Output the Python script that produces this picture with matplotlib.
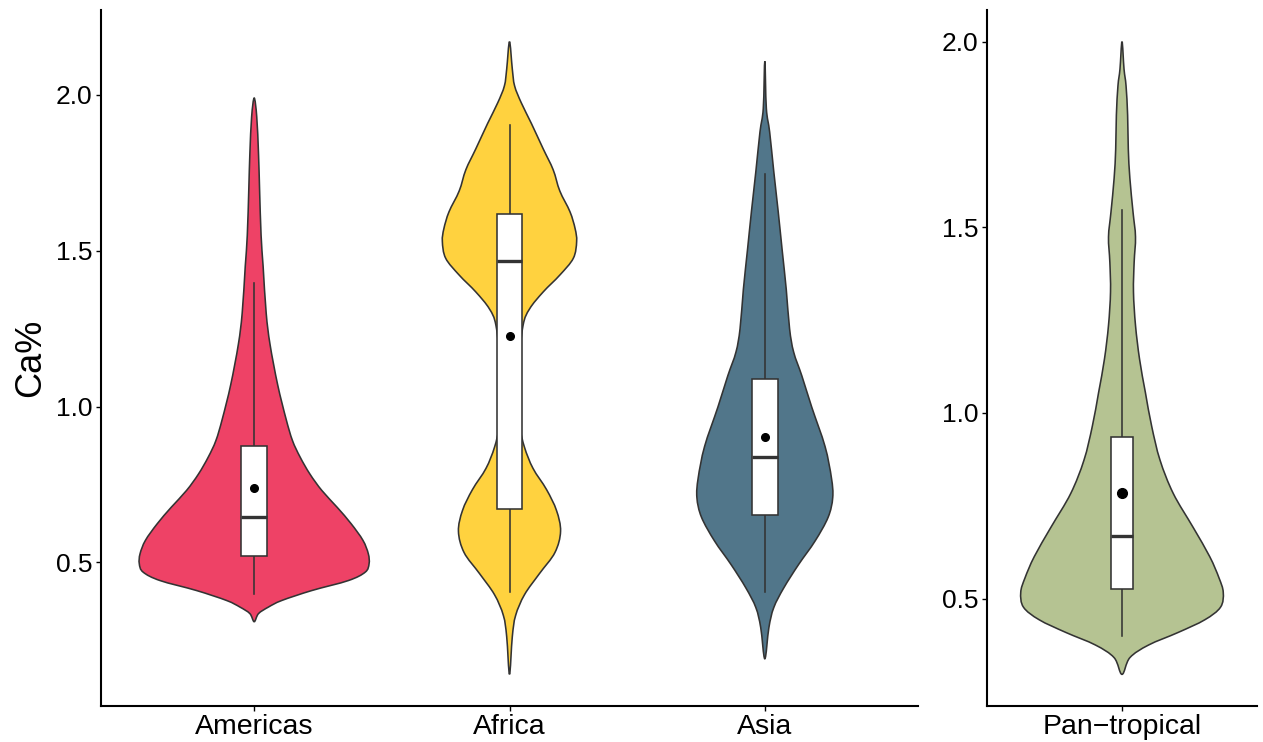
import numpy as np
import matplotlib
matplotlib.use('Agg')
import matplotlib.pyplot as plt
from matplotlib.path import Path
from matplotlib.patches import PathPatch, Rectangle

plt.rcParams['font.family'] = ['Liberation Sans', 'DejaVu Sans']

# Regional groups (left panel) and the pooled group (right panel)
REGIONS = ["Americas", "Africa", "Asia"]
POOLED = "Pan\u2212tropical"

COLORS = {
    "Americas": "#EE4266",
    "Africa": "#FFD23F",
    "Asia": "#51768A",
    POOLED: "#B5C392",
}

# Violin outlines: Ca% value and half-width (category units), top to bottom
AMERICAS_Y = [1.99, 1.93, 1.81, 1.70, 1.55, 1.45, 1.30, 1.20, 1.07, 0.96, 0.891,
              0.838, 0.784, 0.731, 0.677, 0.624, 0.571, 0.528, 0.496, 0.469, 0.442,
              0.410, 0.378, 0.357, 0.336, 0.31]
AMERICAS_HW = [0.0, 0.010, 0.017, 0.021, 0.027, 0.035, 0.047, 0.062, 0.092, 0.125, 0.150,
               0.180, 0.218, 0.265, 0.325, 0.380, 0.426, 0.447, 0.450, 0.435, 0.369,
               0.226, 0.108, 0.056, 0.017, 0.0]

AFRICA_Y = [2.171, 2.083, 2.029, 1.975, 1.908, 1.827, 1.760, 1.692, 1.625, 1.571, 1.530,
            1.476, 1.422, 1.368, 1.314, 1.260, 1.126, 1.031, 0.937, 0.869, 0.802, 0.734,
            0.667, 0.600, 0.532, 0.465, 0.397, 0.330, 0.262, 0.141]
AFRICA_HW = [0.0, 0.011, 0.020, 0.046, 0.086, 0.132, 0.171, 0.197, 0.237, 0.257, 0.263,
             0.250, 0.197, 0.132, 0.079, 0.053, 0.035, 0.030, 0.040, 0.059, 0.092, 0.145,
             0.184, 0.200, 0.178, 0.118, 0.059, 0.024, 0.011, 0.0]

ASIA_Y = [2.108, 1.957, 1.881, 1.755, 1.629, 1.502, 1.376, 1.250, 1.175, 1.099, 0.998,
          0.872, 0.771, 0.708, 0.645, 0.569, 0.493, 0.418, 0.355, 0.291, 0.191]
ASIA_HW = [0.0, 0.006, 0.019, 0.035, 0.052, 0.068, 0.084, 0.097, 0.113, 0.145, 0.184,
           0.236, 0.261, 0.266, 0.248, 0.197, 0.132, 0.074, 0.035, 0.016, 0.0]

PAN_Y = [2.000, 1.926, 1.881, 1.802, 1.711, 1.632, 1.541, 1.474, 1.406, 1.326, 1.236,
         1.145, 1.055, 0.964, 0.873, 0.783, 0.692, 0.613, 0.556, 0.517, 0.477, 0.443,
         0.409, 0.375, 0.341, 0.296]
PAN_HW = [0.0, 0.009, 0.018, 0.025, 0.028, 0.035, 0.049, 0.060, 0.054, 0.051, 0.060,
          0.078, 0.104, 0.132, 0.169, 0.228, 0.316, 0.390, 0.431, 0.450, 0.438, 0.368,
          0.250, 0.118, 0.035, 0.0]

# Box summaries: lower whisker, Q1, median, Q3, upper whisker, mean
WHISKER_LO = {"Americas": 0.40, "Africa": 0.404, "Asia": 0.404, POOLED: 0.398}
Q1 = {"Americas": 0.520, "Africa": 0.670, "Asia": 0.651, POOLED: 0.525}
MEDIAN = {"Americas": 0.646, "Africa": 1.466, "Asia": 0.837, POOLED: 0.668}
Q3 = {"Americas": 0.873, "Africa": 1.618, "Asia": 1.090, POOLED: 0.934}
WHISKER_HI = {"Americas": 1.396, "Africa": 1.902, "Asia": 1.745, POOLED: 1.546}
MEAN = {"Americas": 0.738, "Africa": 1.228, "Asia": 0.904, POOLED: 0.785}

PROFILES = {
    "Americas": (AMERICAS_Y, AMERICAS_HW),
    "Africa": (AFRICA_Y, AFRICA_HW),
    "Asia": (ASIA_Y, ASIA_HW),
    POOLED: (PAN_Y, PAN_HW),
}

Y_TICKS = [0.5, 1.0, 1.5, 2.0]
LINE_COL = "#333333"
BOX_WIDTH = 0.1


def violin_path(center, ys, hws):
    """Closed smooth outline (Catmull-Rom -> cubic Bezier) around the profile."""
    right = [(center + w, y) for y, w in zip(ys, hws)]
    left = [(center - w, y) for y, w in zip(ys[-2:0:-1], hws[-2:0:-1])]
    pts = np.array(right + left)
    n = len(pts)
    verts = [pts[0]]
    codes = [Path.MOVETO]
    for i in range(n):
        p0, p1 = pts[i - 1], pts[i]
        p2, p3 = pts[(i + 1) % n], pts[(i + 2) % n]
        c1 = p1 + (p2 - p0) / 6.0
        c2 = p2 - (p3 - p1) / 6.0
        verts += [c1, c2, p2]
        codes += [Path.CURVE4] * 3
    verts.append(pts[0])
    codes.append(Path.CLOSEPOLY)
    return Path(verts, codes)


def draw_group(ax, pos, name, dot_size):
    ys, hws = PROFILES[name]
    patch = PathPatch(violin_path(pos, ys, hws), facecolor=COLORS[name],
                      edgecolor=LINE_COL, linewidth=1.15, zorder=2)
    ax.add_patch(patch)

    # whiskers
    ax.plot([pos, pos], [WHISKER_LO[name], Q1[name]], color=LINE_COL, lw=1.15, zorder=3)
    ax.plot([pos, pos], [Q3[name], WHISKER_HI[name]], color=LINE_COL, lw=1.15, zorder=3)
    # box
    box = Rectangle((pos - BOX_WIDTH / 2, Q1[name]), BOX_WIDTH, Q3[name] - Q1[name],
                    facecolor="white", edgecolor=LINE_COL, linewidth=1.15, zorder=4)
    ax.add_patch(box)
    ax.plot([pos - BOX_WIDTH / 2, pos + BOX_WIDTH / 2], [MEDIAN[name]] * 2,
            color=LINE_COL, lw=2.4, solid_capstyle='butt', zorder=5)
    # mean
    ax.plot(pos, MEAN[name], 'o', color='black', markersize=dot_size, zorder=6)


def style_axes(ax):
    for side in ['top', 'right']:
        ax.spines[side].set_visible(False)
    for side in ['left', 'bottom']:
        ax.spines[side].set_linewidth(1.5)
        ax.spines[side].set_color('black')
    ax.tick_params(axis='both', length=3.5, width=1.0, color='black',
                   labelsize=19, labelcolor='black', pad=2.5)
    ax.tick_params(axis='x', labelsize=20.5)
    ax.set_yticks(Y_TICKS)
    ax.set_yticklabels([f"{t:.1f}" for t in Y_TICKS])


fig = plt.figure(figsize=(12.63, 7.42), dpi=100)

ax1 = fig.add_axes([101 / 1263, 36 / 742, 817 / 1263, 696 / 742])
for i, name in enumerate(REGIONS):
    draw_group(ax1, i + 1, name, 5.5)
ax1.set_xlim(0.4, 3.6)
ax1.set_ylim(0.0395, 2.2725)
ax1.set_xticks(range(1, len(REGIONS) + 1))
ax1.set_xticklabels(REGIONS)
style_axes(ax1)
ax1.set_ylabel("Ca%", fontsize=26, labelpad=6)

ax2 = fig.add_axes([987 / 1263, 36 / 742, 270 / 1263, 696 / 742])
draw_group(ax2, 1, POOLED, 7)
ax2.set_xlim(0.4, 1.6)
ax2.set_ylim(0.2108, 2.0852)
ax2.set_xticks([1])
ax2.set_xticklabels([POOLED])
style_axes(ax2)

fig.savefig("out.png", dpi=100)
